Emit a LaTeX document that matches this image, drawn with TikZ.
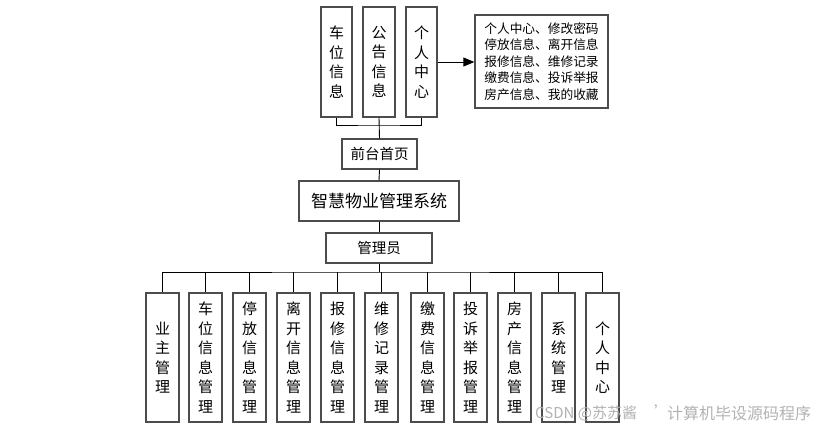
\documentclass[tikz,border=0pt]{standalone}
\usepackage{fontspec}
\setmainfont{Noto Sans CJK SC}
\usetikzlibrary{arrows.meta}
\tikzset{
  box/.style={draw=black!70, line width=1.3pt, fill=white, inner sep=0pt, align=center},
  vbox/.style={box, minimum width=32pt, text width=20pt, font=\fontsize{15}{19.5}\selectfont},
  hbox/.style={box, font=\fontsize{14.5}{17}\selectfont},
  conn/.style={draw=black, line width=0.9pt},
  wmark/.style={anchor=west, text=black!30, inner sep=0pt},
}
\begin{document}
\begin{tikzpicture}[x=1pt,y=-1pt]
\useasboundingbox (0,0) rectangle (817,432);
% top boxes
\node[vbox, minimum width=31pt, minimum height=110pt] (t1) at (336.5,62) {车\\位\\信\\息};
\node[vbox, minimum height=110pt] (t2) at (379,62) {公\\告\\信\\息};
\node[vbox, minimum width=31pt, minimum height=110pt] (t3) at (421.5,62) {个\\人\\中\\心};
\node[box, minimum width=133pt, minimum height=93pt, align=left, font=\fontsize{12.7}{16.6}\selectfont] (note) at (541.5,61.5) {个人中心、修改密码\\停放信息、离开信息\\报修信息、维修记录\\缴费信息、投诉举报\\房产信息、我的收藏};
\node[hbox, minimum width=75pt, minimum height=30pt] (home) at (379.5,154) {前台首页};
\node[box, minimum width=160pt, minimum height=40pt, font=\fontsize{17}{20}\selectfont] (sys) at (379,201) {智慧物业管理系统};
\node[hbox, minimum width=106pt, minimum height=30pt] (admin) at (379,248) {管理员};
% bottom boxes
\foreach \n/\lx/\txt in {b1/146/{业\\主\\管\\理},b2/189/{车\\位\\信\\息\\管\\理},b3/233/{停\\放\\信\\息\\管\\理},b4/277/{离\\开\\信\\息\\管\\理},b5/321/{报\\修\\信\\息\\管\\理},b6/365/{维\\修\\记\\录\\管\\理},b7/411/{缴\\费\\信\\息\\管\\理},b8/454/{投\\诉\\举\\报\\管\\理},b9/498/{房\\产\\信\\息\\管\\理},b10/542/{系\\统\\管\\理},b11/586/{个\\人\\中\\心}}
  \node[vbox, minimum width=33pt, minimum height=129pt] (\n) at (\lx+16.5,357.5) {\txt};
% top connectors
\coordinate (tj) at (379,125);
\draw[conn] (t1.south) |- (tj) -| (t3.south);
\draw[conn] (t2.south) -- (home.north);
\draw[conn, -{Triangle[length=11pt,width=9pt]}] (t3.east) -- (t3.east -| note.west);
\draw[conn] (home.south) -- (sys.north);
\draw[conn] (sys.south) -- (admin.north);
% bus
\coordinate (bus) at (379,272);
\draw[conn] (admin.south) -- (bus);
\draw[conn] (b1.north) |- (bus) -| (b11.north);
\foreach \n in {b2,b3,b4,b5,b6,b7,b8,b9,b10}
  \draw[conn] (\n.north) -- (\n.north |- bus);
% watermark
\node[wmark, font=\fontsize{15}{16}\selectfont] (wm1) at (535,413) {CSDN @苏苏酱};
\node[wmark, font=\fontsize{15}{16}\selectfont] (wm2) at (654,411) {'};
\node[wmark, font=\fontsize{16}{16}\selectfont] (wm3) at (667,413) {计算机毕设源码程序};
\end{tikzpicture}
\end{document}
